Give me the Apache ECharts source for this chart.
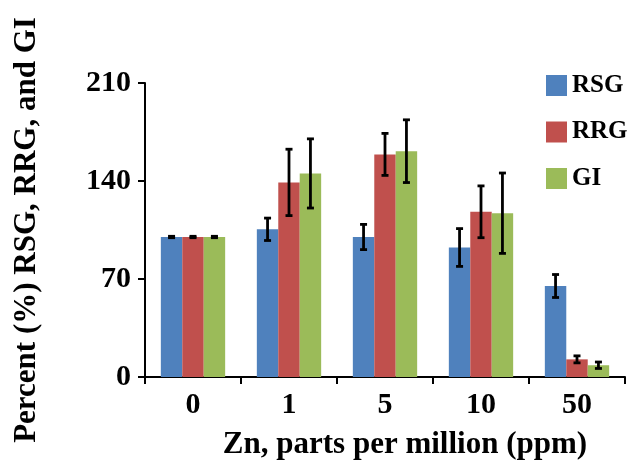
<!DOCTYPE html>
<html>
<head>
<meta charset="utf-8">
<script src="https://cdn.jsdelivr.net/npm/echarts@6/dist/echarts.min.js"></script>
<style>html,body{margin:0;padding:0;background:#fff;}#c{width:627px;height:465px;}</style>
</head>
<body>
<div id="c"></div>
<script>
const categories = ['0', '1', '5', '10', '50'];
const seriesNames = ['RSG', 'RRG', 'GI'];
const rsg = [100, 105.5, 100, 92.5, 65];
const rrg = [100, 139, 159, 118, 12.6];
const gi = [100, 145.4, 161.3, 117, 8.4];
const rsgErr = [0.5, 8, 9, 13.5, 8.2];
const rrgErr = [0.5, 23.7, 15, 18.5, 2.5];
const giErr = [0.5, 24.7, 22.4, 28.7, 2.3];
const yTicks = [0, 70, 140, 210];
const colors = ['#4F81BD', '#C0504D', '#9BBB59'];

const values = [rsg, rrg, gi];
const errs = [rsgErr, rrgErr, giErr];
const FONT = '"Liberation Serif", "Times New Roman", serif';
const catGap = 0.33;

const chart = echarts.init(document.getElementById('c'), null, {renderer: 'canvas'});

const barSeries = seriesNames.map((name, i) => ({
  name: name,
  type: 'bar',
  data: values[i],
  barGap: '0%',
  barCategoryGap: (catGap * 100) + '%',
  itemStyle: {color: colors[i]},
  z: 2
}));

const errSeries = seriesNames.map((name, i) => ({
  name: name + ' err',
  type: 'custom',
  z: 5,
  data: categories.map((c, j) => [j, values[i][j] - errs[i][j], values[i][j] + errs[i][j]]),
  renderItem: function (params, api) {
    const x = api.value(0);
    const lo = api.coord([x, api.value(1)]);
    const hi = api.coord([x, api.value(2)]);
    const catW = api.size([1, 0])[0];
    const bw = catW * (1 - catGap) / 3;
    const cx = lo[0] + (i - 1) * bw;
    const cap = 3.5;
    const st = {stroke: '#000', lineWidth: 2.8};
    return {
      type: 'group',
      children: [
        {type: 'line', shape: {x1: cx, y1: hi[1], x2: cx, y2: lo[1]}, style: st},
        {type: 'line', shape: {x1: cx - cap, y1: hi[1], x2: cx + cap, y2: hi[1]}, style: st},
        {type: 'line', shape: {x1: cx - cap, y1: lo[1], x2: cx + cap, y2: lo[1]}, style: st}
      ]
    };
  }
}));

chart.setOption({
  animation: false,
  backgroundColor: '#fff',
  grid: {left: 145, right: 2, top: 83, bottom: 83, containLabel: false},
  legend: {
    orient: 'vertical',
    left: 541,
    top: 68,
    data: seriesNames,
    icon: 'rect',
    itemWidth: 21,
    itemHeight: 21,
    itemGap: 21.5,
    textStyle: {fontFamily: FONT, fontWeight: 'bold', fontSize: 25, color: '#000', lineHeight: 21}
  },
  xAxis: {
    type: 'category',
    data: categories,
    boundaryGap: true,
    axisLine: {lineStyle: {color: '#000', width: 2}},
    axisTick: {show: true, alignWithLabel: false, length: 7, lineStyle: {color: '#000', width: 2}},
    axisLabel: {fontFamily: FONT, fontWeight: 'bold', fontSize: 30, color: '#000', margin: 13},
    splitLine: {show: false},
    name: 'Zn, parts per million (ppm)',
    nameLocation: 'middle',
    nameGap: 52,
    nameTextStyle: {fontFamily: FONT, fontWeight: 'bold', fontSize: 31, color: '#000', padding: [0, 0, 0, 40]}
  },
  yAxis: {
    type: 'value',
    min: 0,
    max: 210,
    interval: 70,
    axisLine: {show: true, lineStyle: {color: '#000', width: 2}},
    axisTick: {show: true, length: 7, lineStyle: {color: '#000', width: 2}},
    axisLabel: {fontFamily: FONT, fontWeight: 'bold', fontSize: 30, color: '#000', margin: 14,
      formatter: v => yTicks.includes(v) ? String(v) : ''},
    splitLine: {show: false},
    name: 'Percent (%) RSG, RRG, and GI',
    nameLocation: 'middle',
    nameGap: 103,
    nameRotate: 90,
    nameTextStyle: {fontFamily: FONT, fontWeight: 'bold', fontSize: 31, color: '#000'}
  },
  series: barSeries.concat(errSeries)
});
</script>
</body>
</html>
